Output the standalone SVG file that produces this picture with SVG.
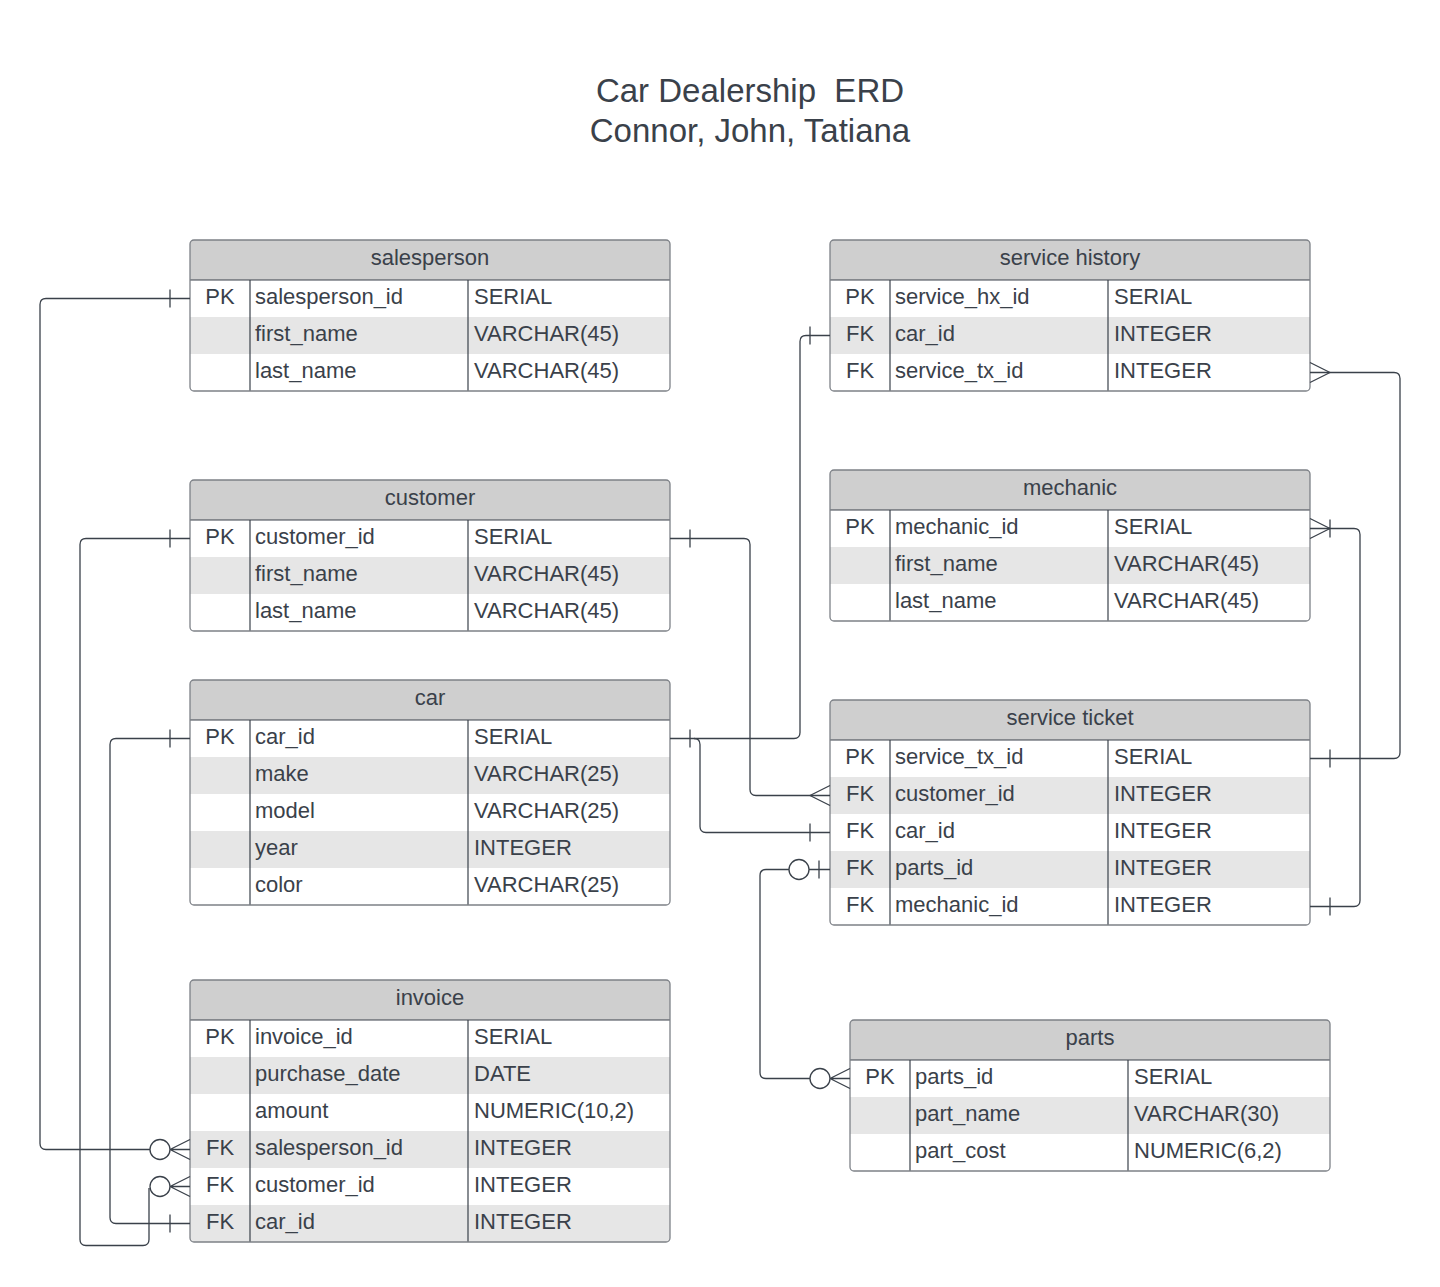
<svg xmlns="http://www.w3.org/2000/svg" width="1440" height="1287" viewBox="0 0 1440 1287">
<style>
text{font-family:"Liberation Sans",Arial,sans-serif;fill:#3a414a}
.t{font-size:33px;text-anchor:middle;white-space:pre}
.h{font-size:22px;text-anchor:middle}
.c{font-size:22px}
.k{font-size:22px;text-anchor:middle}
.hd{fill:#cfcfcf}
.st{fill:#e6e6e6}
.bd{fill:none;stroke:#7d8187;stroke-width:1.3}
.ln{stroke:#3a414a;stroke-width:1.2;fill:none}
.cn{stroke:#3a414a;stroke-width:1.3;fill:none}
.ci{stroke:#3a414a;stroke-width:1.3;fill:#fff}
</style>
<rect width="1440" height="1287" fill="#fff"/>
<g id="title">
<text class="t" x="750" y="102" xml:space="preserve">Car Dealership  ERD</text>
<text class="t" x="750" y="142">Connor, John, Tatiana</text>
</g>

<g id="salesperson">
<path class="hd" d="M190,280V244Q190,240 194,240H666Q670,240 670,244V280Z"/>
<rect class="st" x="190" y="317" width="480" height="37"/>
<line class="ln" x1="190" y1="280" x2="670" y2="280"/>
<line class="ln" x1="250" y1="280" x2="250" y2="391"/>
<line class="ln" x1="468" y1="280" x2="468" y2="391"/>
<rect class="bd" x="190" y="240" width="480" height="151" rx="4"/>
<text class="h" x="430" y="265">salesperson</text>
<text class="k" x="220" y="304">PK</text><text class="c" x="255" y="304">salesperson_id</text><text class="c" x="474" y="304">SERIAL</text>
<text class="c" x="255" y="341">first_name</text><text class="c" x="474" y="341">VARCHAR(45)</text>
<text class="c" x="255" y="378">last_name</text><text class="c" x="474" y="378">VARCHAR(45)</text>
</g>

<g id="customer">
<path class="hd" d="M190,520V484Q190,480 194,480H666Q670,480 670,484V520Z"/>
<rect class="st" x="190" y="557" width="480" height="37"/>
<line class="ln" x1="190" y1="520" x2="670" y2="520"/>
<line class="ln" x1="250" y1="520" x2="250" y2="631"/>
<line class="ln" x1="468" y1="520" x2="468" y2="631"/>
<rect class="bd" x="190" y="480" width="480" height="151" rx="4"/>
<text class="h" x="430" y="505">customer</text>
<text class="k" x="220" y="544">PK</text><text class="c" x="255" y="544">customer_id</text><text class="c" x="474" y="544">SERIAL</text>
<text class="c" x="255" y="581">first_name</text><text class="c" x="474" y="581">VARCHAR(45)</text>
<text class="c" x="255" y="618">last_name</text><text class="c" x="474" y="618">VARCHAR(45)</text>
</g>

<g id="car">
<path class="hd" d="M190,720V684Q190,680 194,680H666Q670,680 670,684V720Z"/>
<rect class="st" x="190" y="757" width="480" height="37"/>
<rect class="st" x="190" y="831" width="480" height="37"/>
<line class="ln" x1="190" y1="720" x2="670" y2="720"/>
<line class="ln" x1="250" y1="720" x2="250" y2="905"/>
<line class="ln" x1="468" y1="720" x2="468" y2="905"/>
<rect class="bd" x="190" y="680" width="480" height="225" rx="4"/>
<text class="h" x="430" y="705">car</text>
<text class="k" x="220" y="744">PK</text><text class="c" x="255" y="744">car_id</text><text class="c" x="474" y="744">SERIAL</text>
<text class="c" x="255" y="781">make</text><text class="c" x="474" y="781">VARCHAR(25)</text>
<text class="c" x="255" y="818">model</text><text class="c" x="474" y="818">VARCHAR(25)</text>
<text class="c" x="255" y="855">year</text><text class="c" x="474" y="855">INTEGER</text>
<text class="c" x="255" y="892">color</text><text class="c" x="474" y="892">VARCHAR(25)</text>
</g>

<g id="invoice">
<path class="hd" d="M190,1020V984Q190,980 194,980H666Q670,980 670,984V1020Z"/>
<rect class="st" x="190" y="1057" width="480" height="37"/>
<rect class="st" x="190" y="1131" width="480" height="37"/>
<path class="st" d="M190,1205H670V1238Q670,1242 666,1242H194Q190,1242 190,1238Z"/>
<line class="ln" x1="190" y1="1020" x2="670" y2="1020"/>
<line class="ln" x1="250" y1="1020" x2="250" y2="1242"/>
<line class="ln" x1="468" y1="1020" x2="468" y2="1242"/>
<rect class="bd" x="190" y="980" width="480" height="262" rx="4"/>
<text class="h" x="430" y="1005">invoice</text>
<text class="k" x="220" y="1044">PK</text><text class="c" x="255" y="1044">invoice_id</text><text class="c" x="474" y="1044">SERIAL</text>
<text class="c" x="255" y="1081">purchase_date</text><text class="c" x="474" y="1081">DATE</text>
<text class="c" x="255" y="1118">amount</text><text class="c" x="474" y="1118">NUMERIC(10,2)</text>
<text class="k" x="220" y="1155">FK</text><text class="c" x="255" y="1155">salesperson_id</text><text class="c" x="474" y="1155">INTEGER</text>
<text class="k" x="220" y="1192">FK</text><text class="c" x="255" y="1192">customer_id</text><text class="c" x="474" y="1192">INTEGER</text>
<text class="k" x="220" y="1229">FK</text><text class="c" x="255" y="1229">car_id</text><text class="c" x="474" y="1229">INTEGER</text>
</g>

<g id="service_history">
<path class="hd" d="M830,280V244Q830,240 834,240H1306Q1310,240 1310,244V280Z"/>
<rect class="st" x="830" y="317" width="480" height="37"/>
<line class="ln" x1="830" y1="280" x2="1310" y2="280"/>
<line class="ln" x1="890" y1="280" x2="890" y2="391"/>
<line class="ln" x1="1108" y1="280" x2="1108" y2="391"/>
<rect class="bd" x="830" y="240" width="480" height="151" rx="4"/>
<text class="h" x="1070" y="265">service history</text>
<text class="k" x="860" y="304">PK</text><text class="c" x="895" y="304">service_hx_id</text><text class="c" x="1114" y="304">SERIAL</text>
<text class="k" x="860" y="341">FK</text><text class="c" x="895" y="341">car_id</text><text class="c" x="1114" y="341">INTEGER</text>
<text class="k" x="860" y="378">FK</text><text class="c" x="895" y="378">service_tx_id</text><text class="c" x="1114" y="378">INTEGER</text>
</g>

<g id="mechanic">
<path class="hd" d="M830,510V474Q830,470 834,470H1306Q1310,470 1310,474V510Z"/>
<rect class="st" x="830" y="547" width="480" height="37"/>
<line class="ln" x1="830" y1="510" x2="1310" y2="510"/>
<line class="ln" x1="890" y1="510" x2="890" y2="621"/>
<line class="ln" x1="1108" y1="510" x2="1108" y2="621"/>
<rect class="bd" x="830" y="470" width="480" height="151" rx="4"/>
<text class="h" x="1070" y="495">mechanic</text>
<text class="k" x="860" y="534">PK</text><text class="c" x="895" y="534">mechanic_id</text><text class="c" x="1114" y="534">SERIAL</text>
<text class="c" x="895" y="571">first_name</text><text class="c" x="1114" y="571">VARCHAR(45)</text>
<text class="c" x="895" y="608">last_name</text><text class="c" x="1114" y="608">VARCHAR(45)</text>
</g>

<g id="service_ticket">
<path class="hd" d="M830,740V704Q830,700 834,700H1306Q1310,700 1310,704V740Z"/>
<rect class="st" x="830" y="777" width="480" height="37"/>
<rect class="st" x="830" y="851" width="480" height="37"/>
<line class="ln" x1="830" y1="740" x2="1310" y2="740"/>
<line class="ln" x1="890" y1="740" x2="890" y2="925"/>
<line class="ln" x1="1108" y1="740" x2="1108" y2="925"/>
<rect class="bd" x="830" y="700" width="480" height="225" rx="4"/>
<text class="h" x="1070" y="725">service ticket</text>
<text class="k" x="860" y="764">PK</text><text class="c" x="895" y="764">service_tx_id</text><text class="c" x="1114" y="764">SERIAL</text>
<text class="k" x="860" y="801">FK</text><text class="c" x="895" y="801">customer_id</text><text class="c" x="1114" y="801">INTEGER</text>
<text class="k" x="860" y="838">FK</text><text class="c" x="895" y="838">car_id</text><text class="c" x="1114" y="838">INTEGER</text>
<text class="k" x="860" y="875">FK</text><text class="c" x="895" y="875">parts_id</text><text class="c" x="1114" y="875">INTEGER</text>
<text class="k" x="860" y="912">FK</text><text class="c" x="895" y="912">mechanic_id</text><text class="c" x="1114" y="912">INTEGER</text>
</g>

<g id="parts">
<path class="hd" d="M850,1060V1024Q850,1020 854,1020H1326Q1330,1020 1330,1024V1060Z"/>
<rect class="st" x="850" y="1097" width="480" height="37"/>
<line class="ln" x1="850" y1="1060" x2="1330" y2="1060"/>
<line class="ln" x1="910" y1="1060" x2="910" y2="1171"/>
<line class="ln" x1="1128" y1="1060" x2="1128" y2="1171"/>
<rect class="bd" x="850" y="1020" width="480" height="151" rx="4"/>
<text class="h" x="1090" y="1045">parts</text>
<text class="k" x="880" y="1084">PK</text><text class="c" x="915" y="1084">parts_id</text><text class="c" x="1134" y="1084">SERIAL</text>
<text class="c" x="915" y="1121">part_name</text><text class="c" x="1134" y="1121">VARCHAR(30)</text>
<text class="c" x="915" y="1158">part_cost</text><text class="c" x="1134" y="1158">NUMERIC(6,2)</text>
</g>

<g id="connectors">
<!-- salesperson -> invoice -->
<path class="cn" d="M190,298.5H46Q40,298.5 40,304.5V1143.5Q40,1149.5 46,1149.5H150"/>
<path class="cn" d="M170,289.5V307.5"/>
<circle class="ci" cx="160" cy="1149.5" r="10"/>
<path class="cn" d="M170,1149.5L190,1139.5M170,1149.5H190M170,1149.5L190,1159.5"/>
<!-- customer -> invoice -->
<path class="cn" d="M190,538.5H86Q80,538.5 80,544.5V1239.5Q80,1245.5 86,1245.5H143Q149,1245.5 149,1239.5V1188"/>
<path class="cn" d="M170,529.5V547.5"/>
<circle class="ci" cx="160" cy="1186.5" r="10"/>
<path class="cn" d="M170,1186.5L190,1176.5M170,1186.5H190M170,1186.5L190,1196.5"/>
<!-- customer -> service ticket -->
<path class="cn" d="M670,538.5H744Q750,538.5 750,544.5V789.5Q750,795.5 756,795.5H830"/>
<path class="cn" d="M690,529.5V547.5"/>
<path class="cn" d="M810,795.5L830,785.5M810,795.5L830,805.5"/>
<!-- car -> invoice -->
<path class="cn" d="M190,738.5H116Q110,738.5 110,744.5V1217.5Q110,1223.5 116,1223.5H190"/>
<path class="cn" d="M170,729.5V747.5M170,1214.5V1232.5"/>
<!-- car -> service history -->
<path class="cn" d="M670,738.5H794Q800,738.5 800,732.5V341.5Q800,335.5 806,335.5H830"/>
<path class="cn" d="M690,729.5V747.5M810,326.5V344.5"/>
<!-- car -> service ticket -->
<path class="cn" d="M694,738.5Q700,738.5 700,744.5V826.5Q700,832.5 706,832.5H830"/>
<path class="cn" d="M810,823.5V841.5"/>
<!-- service ticket -> parts -->
<path class="cn" d="M789,869.5H766Q760,869.5 760,875.5V1072.5Q760,1078.5 766,1078.5H810"/>
<path class="cn" d="M809,869.5H830M819,860.5V878.5"/>
<circle class="ci" cx="799" cy="869.5" r="10"/>
<circle class="ci" cx="820" cy="1078.5" r="10"/>
<path class="cn" d="M830,1078.5L850,1068.5M830,1078.5H850M830,1078.5L850,1088.5"/>
<!-- service history -> service ticket -->
<path class="cn" d="M1310,372.5H1394Q1400,372.5 1400,378.5V752.5Q1400,758.5 1394,758.5H1310"/>
<path class="cn" d="M1330,372.5L1310,362.5M1330,372.5L1310,382.5"/>
<path class="cn" d="M1330,749.5V767.5"/>
<!-- mechanic -> service ticket -->
<path class="cn" d="M1310,528.5H1354Q1360,528.5 1360,534.5V900.5Q1360,906.5 1354,906.5H1310"/>
<path class="cn" d="M1330,528.5L1310,518.5M1330,528.5L1310,538.5M1330,519.5V537.5"/>
<path class="cn" d="M1330,897.5V915.5"/>
</g>
</svg>
